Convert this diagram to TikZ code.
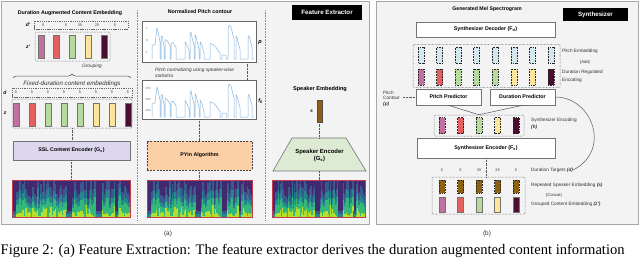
\documentclass[tikz,border=0pt]{standalone}
\usepackage{fontspec}
\setmainfont{Liberation Sans}
\newfontfamily\capfont{Liberation Serif}
\usetikzlibrary{decorations.pathreplacing,calc}
\definecolor{cPur}{HTML}{C2709F}
\definecolor{cRed}{HTML}{E55F5F}
\definecolor{cGrn}{HTML}{B7DB9F}
\definecolor{cYel}{HTML}{FDE59B}
\definecolor{cMar}{HTML}{4A0E30}
\definecolor{cBrn}{HTML}{8A6212}
\definecolor{cPEmb}{HTML}{D5E7EE}
\definecolor{cLav}{HTML}{DCD6EE}
\definecolor{cPeach}{HTML}{FBD0A6}
\definecolor{cSpkG}{HTML}{DDEBD4}
\definecolor{cSpecBg}{HTML}{41296F}
\definecolor{cSpecBlue}{HTML}{3A5A8E}
\definecolor{cSpecTeal}{HTML}{23898E}
\definecolor{cSpecGrn}{HTML}{35B779}
\definecolor{cSpecYel}{HTML}{B5DE2B}
\definecolor{cSpecEdge}{HTML}{C23B4C}
\definecolor{cPlot}{HTML}{86B5DD}
\definecolor{cPanel}{HTML}{F3F3F3}

\newcommand\specgram[5]{%
  \begin{scope}
    \clip (#2,#3) rectangle (#4,#5);
    \fill[cSpecBg] (#2,#3) rectangle (#4,#5);
    \pgfmathsetseed{4242}
    \pgfmathsetmacro\sw{#4-#2}
    \pgfmathsetmacro\sh{#5-#3}
    \pgfmathsetmacro\lw{\sw/80*1.25}
    \foreach \i in {0,...,79}{
      \pgfmathsetmacro\fx{(\i+0.5)/80}
      \pgfmathsetmacro\gp{min(1,(\fx<0.04)+(\fx>0.46)*(\fx<0.51)+(\fx>0.71)*(\fx<0.76)+(\fx>0.87)*(\fx<0.9))}
      \pgfmathsetmacro\hv{\sh*(0.08+(1-\gp)*(0.3+0.55*rnd))}
      \pgfmathsetmacro\xx{#2+\fx*\sw}
      \draw[cSpecBlue, line width=\lw pt] (\xx,#5) -- ++(0,{-\sh*0.06-\hv*1.12});
      \draw[cSpecTeal, line width=\lw pt] (\xx,#5) -- ++(0,{-\hv*0.85});
      \draw[cSpecGrn, line width=\lw pt] (\xx,#5) -- ++(0,{-\hv*0.6*(1-\gp)});
      \draw[cSpecYel, line width=\lw pt] (\xx,#5) -- ++(0,{-\hv*0.4*rnd*(1-\gp)});
    }
  \end{scope}
  \pgfmathsetmacro\sw{#4-#2}
  \pgfmathsetmacro\sh{#5-#3}
  \node[draw=cSpecEdge, line width=0.7pt, inner sep=0, minimum width=\sw pt, minimum height=\sh pt] (#1) at ({(#2+#4)/2},{(#3+#5)/2}) {};
}

\def\pitchpath{(0,0) -- (0,14) -- (3,15) -- (5,32) -- (6,28) -- (8,18) -- (8,0)
 -- (9,0) -- (9,22) -- (10,24) -- (12,13) -- (12,0)
 -- (13,0) -- (13,20) -- (15,19) -- (18,14) -- (18,0)
 -- (19,0) -- (19,16) -- (21,17) -- (24,12) -- (24,0)
 -- (33,0) -- (33,18) -- (35,14) -- (37,9) -- (37,0)
 -- (38,0) -- (38,26) -- (39,28) -- (40,22) -- (42,14) -- (42,0)
 -- (43,0) -- (43,25) -- (44,23) -- (47,10) -- (47,0)
 -- (48,0) -- (48,18) -- (50,14) -- (52,6) -- (52,0)
 -- (58,0) -- (58,16) -- (61,15) -- (64,12) -- (68,6) -- (68,0)
 -- (70,0) -- (70,4) -- (74,4) -- (74,0)
 -- (76,0) -- (76,30) -- (77,35) -- (79,33) -- (82,20) -- (82,0)
 -- (84,0) -- (84,24) -- (85,22) -- (88,10) -- (88,0)
 -- (96,0) -- (96,22) -- (97,24) -- (100,12) -- (100,0) -- (102,0)}

\begin{document}
\begin{tikzpicture}[x=1pt,y=-1pt,
  ttl/.style={font=\bfseries\fontsize{5.3}{6}\selectfont, inner sep=0},
  lbl/.style={font=\fontsize{4.7}{5.6}\selectfont, text=black!80, inner sep=0},
  ital/.style={font=\itshape\fontsize{4.8}{6}\selectfont, text=black!80, inner sep=0},
  delta/.style={font=\fontsize{3.8}{4}\selectfont, text=black!75, inner sep=0},
  tick/.style={font=\fontsize{3}{3.5}\selectfont, text=black!60, inner sep=0},
  wbox/.style={draw=black!55, fill=white, line width=0.6pt, inner sep=0, font=\bfseries\fontsize{5.3}{6}\selectfont},
  blk/.style={fill=black, text=white, inner sep=0, font=\bfseries\fontsize{6.2}{7}\selectfont},
  conn/.style={draw=black!65, line width=0.55pt, dash pattern=on 0.6pt off 0.8pt},
  sepl/.style={draw=black!45, line width=0.5pt, dash pattern=on 0.6pt off 1pt},
  dbox/.style={draw=black!60, line width=0.45pt, dash pattern=on 1.3pt off 0.9pt, inner sep=0},
  obox/.style={draw=black!60, line width=0.5pt, dash pattern=on 0.6pt off 0.8pt, rounded corners=1.2pt, inner sep=0},
  emb/.style={draw=black!55, line width=0.55pt},
  embd/.style={draw=black!85, line width=0.55pt, dash pattern=on 1pt off 0.6pt},
  pbox/.style={draw=black!60, fill=white, line width=0.8pt, inner sep=0},
  panel/.style={draw=black!35, fill=cPanel, line width=0.8pt}
]
\useasboundingbox (0,0) rectangle (640,258);
\fill[white] (0,0) rectangle (640,258);

% ---------- panels ----------
\draw[panel] (1,1) rectangle (369,224);
\draw[panel] (376,1) rectangle (638,224);
\draw[sepl] (137,10) -- (137,220);
\draw[sepl] (265,10) -- (265,220);

% ---------- (a) left column ----------
\node[ttl] (t1) at (70,13) {Duration Augmented Content Embedding};
\node[dbox, minimum width=94pt, minimum height=8pt] (dpbox) at (81,25) {};
\node[font=\bfseries\itshape\fontsize{5}{6}\selectfont, inner sep=0] (dplab) at (28,25) {d'};
\foreach \x/\t [count=\k] in {43/δ,66/δ,80/3δ,97/2δ,115/δ}{
  \node[delta] (dp\k) at (\x,25) {\t};
}
\node[obox, minimum width=75pt, minimum height=29pt] (zpbox) at (72.5,46.5) {};
\node[font=\bfseries\itshape\fontsize{5}{6}\selectfont, inner sep=0] (zplab) at (28,47) {z'};
\foreach \c/\x in {cPur/41,cRed/56.5,cGrn/72,cYel/88,cMar/104}{
  \filldraw[fill=\c, emb] ({\x-3},35) rectangle ({\x+3},58);
}
\node[ital] (grp) at (92,66) {Grouping};
\draw[black!70, line width=0.5pt, decorate, decoration={brace, amplitude=4pt}] (13,78) -- (131,78);
\node[ital, font=\itshape\fontsize{6.2}{7}\selectfont] (fix) at (72,84) {Fixed-duration content embeddings};

\node[dbox, minimum width=120pt, minimum height=9pt] (dbx) at (72,92.5) {};
\node[font=\bfseries\itshape\fontsize{5}{6}\selectfont, inner sep=0] (dlab) at (5,92.5) {d};
\node[obox, minimum width=120pt, minimum height=29pt] (zbx) at (72,113.5) {};
\node[font=\bfseries\itshape\fontsize{5}{6}\selectfont, inner sep=0] (zlab) at (5,113) {z};
\foreach \c [count=\k from 0] in {cPur,cRed,cGrn,cGrn,cGrn,cYel,cYel,cMar}{
  \pgfmathsetmacro\cx{16+16*\k}
  \filldraw[fill=\c, emb] ({\cx-3},103) rectangle ({\cx+3},126);
  \node[delta] (dd\k) at (\cx,92.5) {δ};
}
\node[wbox, fill=cLav, minimum width=117pt, minimum height=19pt] (ssl) at (71.5,150.5) {SSL Content Encoder (G\textsubscript{c})};
\specgram{specA}{12}{180}{130}{217}
\draw[conn] (zbx.south) -- (zbx.south |- ssl.north);
\draw[conn] (ssl.south) -- (ssl.south |- specA.north);

% ---------- (a) middle column ----------
\node[ttl] (t2) at (200,12) {Normalized Pitch contour};
\node[pbox, minimum width=114pt, minimum height=41pt] (pbx) at (199,41.5) {};
\node[pbox, minimum width=114pt, minimum height=39pt] (fbx) at (199,99.5) {};
\begin{scope}[shift={(152,59)}, yscale=-0.97]
  \draw[cPlot, line width=0.5pt, line join=round] \pitchpath;
\end{scope}
\begin{scope}[shift={(152,117)}, yscale=-0.94]
  \draw[cPlot, line width=0.5pt, line join=round] \pitchpath;
\end{scope}
\node[tick] (tk1) at (147,28) {1};
\node[tick] (tk2) at (147,40) {0};
\node[tick] (tk3) at (146.5,52) {-1};
\node[tick] (tk4) at (148,88) {250};
\node[tick] (tk5) at (148,99) {200};
\node[tick] (tk6) at (148,110) {150};
\node[font=\bfseries\itshape\fontsize{5.5}{6}\selectfont, inner sep=0] (plab) at (260,43) {p};
\node[font=\bfseries\itshape\fontsize{5.5}{6}\selectfont, inner sep=0] (flab) at (260.5,101) {f\textsubscript{0}};
\node[ital, align=left, anchor=north west] (pnorm) at (155,67.5) {Pitch normalizing using speaker-wise\\statistics};
\draw[conn] ([xshift=-9pt]fbx.north east) -- ([xshift=-9pt]pbx.south east);
\node[wbox, fill=cPeach, draw=black!75, line width=0.8pt, dash pattern=on 2pt off 1.2pt, minimum width=105pt, minimum height=29pt] (pyin) at (199.5,155.5) {PYin Algorithm};
\specgram{specB}{147}{180}{252}{217}
\draw[conn] (fbx.south) -- (fbx.south |- pyin.north);
\draw[conn] (pyin.south) -- (pyin.south |- specB.north);

% ---------- (a) right column ----------
\node[blk, minimum width=70pt, minimum height=15pt] (fe) at (327,12.5) {Feature Extractor};
\node[ttl, font=\bfseries\fontsize{5.6}{6}\selectfont] (spkt) at (320,89) {Speaker Embedding};
\node[fill=cBrn, draw=black!70, line width=0.5pt, inner sep=0, minimum width=5.5pt, minimum height=22pt] (sbar) at (319.5,111) {};
\node[font=\bfseries\itshape\fontsize{4.5}{5}\selectfont, inner sep=0] (slab) at (311.5,111) {s};
\filldraw[fill=cSpkG, draw=black!55, line width=0.6pt] (292,138) -- (346,138) -- (366,171) -- (273,171) -- cycle;
\coordinate (trT) at (319.5,138);
\coordinate (trB) at (319.5,171);
\node[font=\bfseries\fontsize{5.9}{7}\selectfont, align=center, inner sep=0] (spkenc) at (319.5,155) {Speaker Encoder\\(G\textsubscript{s})};
\specgram{specC}{272}{180}{365}{217}
\draw[conn] (sbar.south) -- (trT);
\draw[conn] (trB) -- (trB |- specC.north);
\node[font=\fontsize{6.5}{7}\selectfont, text=black!80, inner sep=0] (capa) at (168,234) {(a)};

% ---------- (b) ----------
\node[blk, minimum width=65pt, minimum height=13pt] (syn) at (595.5,14.5) {Synthesizer};
\node[ttl, font=\bfseries\fontsize{5.2}{6}\selectfont] (gen) at (487,9) {Generated Mel Spectrogram};
\node[wbox, minimum width=139pt, minimum height=15pt] (dec) at (485.5,29.5) {Synthesizer Decoder (F\textsubscript{d})};
\node[obox, minimum width=147pt, minimum height=43pt] (topb) at (486.5,66) {};
\foreach \c [count=\k from 0] in {cPur,cRed,cGrn,cGrn,cGrn,cYel,cYel,cMar}{
  \pgfmathsetmacro\cx{421+18.57*\k}
  \filldraw[fill=cPEmb, embd] ({\cx-3},47.5) rectangle ({\cx+3},63);
  \filldraw[fill=\c, embd] ({\cx-3},69) rectangle ({\cx+3},85);
}
\node[lbl, anchor=west] (pe) at (562,51) {Pitch Embedding};
\node[lbl, font=\fontsize{4.2}{5}\selectfont] (add) at (585,62) {(Add)};
\node[lbl, anchor=west] (dre) at (562,72) {Duration Regulated};
\node[lbl, anchor=west] (dre2) at (562,80) {Encoding};
\node[wbox, minimum width=65pt, minimum height=16pt] (pp) at (448.5,97) {Pitch Predictor};
\node[wbox, minimum width=65pt, minimum height=16pt] (dp) at (522.5,97) {Duration Predictor};
\node[lbl, align=left, anchor=north west] (pcl) at (383,90.5) {Pitch\\Contour\\\textbf{\textit{(p)}}};
\draw[conn] (403,97) -- (pp.west);
\node[obox, minimum width=90pt, minimum height=21pt] (encb) at (479,125.5) {};
\foreach \c [count=\k from 0] in {cPur,cRed,cGrn,cYel,cMar}{
  \pgfmathsetmacro\cx{442+18.5*\k}
  \filldraw[fill=\c, embd] ({\cx-3},117.5) rectangle ({\cx+3},133.5);
}
\draw[black!65, line width=0.5pt] (pp.south) -- (encb.north);
\draw[black!65, line width=0.5pt] (dp.south) -- (encb.north);
\node[lbl, anchor=west] (se) at (531,120) {Synthesizer Encoding};
\node[lbl, anchor=west] (se2) at (531,127) {\textbf{\textit{(h)}}};
\node[wbox, minimum width=138pt, minimum height=20pt] (enc) at (486,148) {Synthesizer Encoder (F\textsubscript{e})};
\foreach \x/\t [count=\k] in {442/δ,460.5/δ,479/3δ,497.5/2δ,516/δ}{
  \node[delta] (db\k) at (\x,170) {\t};
}
\node[lbl, anchor=west] (dt) at (531,170) {Duration Targets \textbf{\textit{(d)}}};
\draw[black!65, line width=0.5pt] (dp.east) .. controls (592,97) and (612,150) .. (dt.east);
\node[obox, minimum width=93pt, minimum height=37pt] (cat) at (478.5,195.5) {};
\foreach \c [count=\k from 0] in {cPur,cRed,cGrn,cYel,cMar}{
  \pgfmathsetmacro\cx{442+18.5*\k}
  \filldraw[fill=cBrn, embd] ({\cx-3},180) rectangle ({\cx+3},193);
  \filldraw[fill=\c, emb] ({\cx-3},197) rectangle ({\cx+3},212);
}
\draw[conn] (enc.south) -- (enc.south |- cat.north);
\node[lbl, anchor=west] (rse) at (531,185) {Repeated Speaker Embedding \textbf{\textit{(s)}}};
\node[lbl, font=\fontsize{4.2}{5}\selectfont] (ccat) at (554,195) {(Concat)};
\node[lbl, anchor=west] (gce) at (531,204) {Grouped Content Embedding \textbf{\textit{(z')}}};
\node[font=\fontsize{6.5}{7}\selectfont, text=black!80, inner sep=0] (capb) at (487,234) {(b)};

% ---------- caption ----------
\node[font=\capfont\fontsize{14.6}{16}\selectfont, anchor=north west, inner sep=0] (cap) at (0.5,244) {Figure 2: (a) Feature Extraction: The feature extractor derives the duration augmented content information};
\end{tikzpicture}
\end{document}
